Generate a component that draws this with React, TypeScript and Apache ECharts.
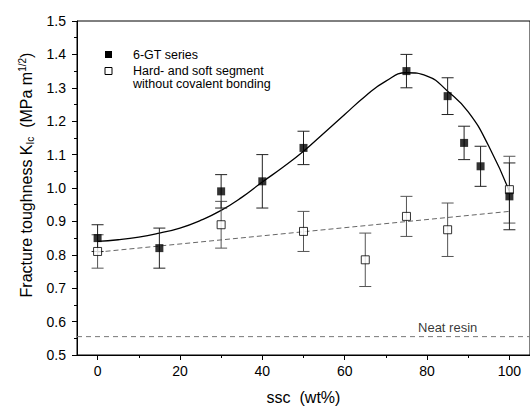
import React, { useEffect, useRef } from "react";
import * as echarts from "echarts";

const FONT = '"Liberation Sans", Arial, Helvetica, sans-serif';

// 6-GT series (filled squares)
const gtX = [0, 15, 30, 40, 50, 75, 85, 89, 93, 100];
const gtY = [0.85, 0.82, 0.99, 1.02, 1.12, 1.35, 1.275, 1.135, 1.065, 0.975];
const gtErr = [0.04, 0.06, 0.05, 0.08, 0.05, 0.05, 0.055, 0.05, 0.06, 0.1];

// Hard- and soft segment without covalent bonding (open squares)
const hsX = [0, 30, 50, 65, 75, 85, 100];
const hsY = [0.81, 0.89, 0.87, 0.785, 0.915, 0.875, 0.995];
const hsErr = [0.05, 0.07, 0.06, 0.08, 0.06, 0.08, 0.1];

// fitted curve through 6-GT series
const curveX = [0, 5, 10, 15, 20, 25, 30, 35, 40, 45, 50, 55, 60, 65, 70, 75, 80, 85, 90, 95, 100];
const curveY = [0.84, 0.845, 0.853, 0.865, 0.88, 0.903, 0.933, 0.972, 1.018, 1.062, 1.11, 1.165, 1.22, 1.275, 1.32, 1.345, 1.335, 1.29, 1.228, 1.125, 0.99];

// linear trend for open squares
const fitX = [0, 100];
const fitY = [0.808, 0.93];

// neat resin reference
const neatX = [-5, 105];
const neatY = 0.555;
const neatLabelX = 85;

const xMajor = [0, 20, 40, 60, 80, 100];
const xMinor = [10, 30, 50, 70, 90];

function errorBarSeries(xs: number[], ys: number[], es: number[], color: string, z: number) {
  return {
    type: "custom",
    z,
    silent: true,
    data: xs.map((x, i) => [x, ys[i], es[i]]),
    renderItem: (params: any, api: any) => {
      const x = api.value(0);
      const y = api.value(1);
      const e = api.value(2);
      const top = api.coord([x, y + e]);
      const bot = api.coord([x, y - e]);
      const hw = 6;
      const style = { stroke: color, lineWidth: 1 };
      return {
        type: "group",
        children: [
          { type: "line", shape: { x1: top[0], y1: top[1], x2: bot[0], y2: bot[1] }, style },
          { type: "line", shape: { x1: top[0] - hw, y1: top[1], x2: top[0] + hw, y2: top[1] }, style },
          { type: "line", shape: { x1: bot[0] - hw, y1: bot[1], x2: bot[0] + hw, y2: bot[1] }, style },
        ],
      };
    },
  };
}

export default function App() {
  const ref = useRef<HTMLDivElement>(null);
  useEffect(() => {
    if (!ref.current) return;
    const chart = echarts.init(ref.current, undefined, { renderer: "svg" });
    const axisText = { color: "#000", fontSize: 14, fontFamily: FONT };
    const option: any = {
      animation: false,
      backgroundColor: "#fff",
      grid: {
        left: 77,
        top: 21,
        right: -5,
        bottom: 49.5,
        show: true,
        borderColor: "#000",
        borderWidth: 1,
        backgroundColor: "transparent",
      },
      xAxis: [
        {
          type: "value",
          min: -5,
          max: 105,
          interval: 5,
          position: "bottom",
          axisLine: { show: true, onZero: false, lineStyle: { color: "#000", width: 1 } },
          axisTick: { show: true, customValues: xMajor, length: 5, lineStyle: { color: "#000" } },
          axisLabel: { ...axisText, customValues: xMajor, margin: 9, formatter: (v: number) => String(v) },
          splitLine: { show: false },
          name: "ssc  (wt%)",
          nameLocation: "middle",
          nameGap: 34,
          nameTextStyle: { color: "#000", fontSize: 16, fontFamily: FONT },
        },
        {
          type: "value",
          min: -5,
          max: 105,
          interval: 5,
          position: "bottom",
          axisLine: { show: false },
          axisTick: { show: true, customValues: xMinor, length: 3, lineStyle: { color: "#000" } },
          axisLabel: { show: false },
          splitLine: { show: false },
        },
      ],
      yAxis: {
        type: "value",
        min: 0.5,
        max: 1.5,
        interval: 0.1,
        axisLine: { show: true, onZero: false, lineStyle: { color: "#000", width: 1 } },
        axisTick: { show: true, length: 5, lineStyle: { color: "#000" } },
        minorTick: { show: true, splitNumber: 2, length: 3, lineStyle: { color: "#000" } },
        axisLabel: { ...axisText, margin: 11, formatter: (v: number) => v.toFixed(1) },
        splitLine: { show: false },
        minorSplitLine: { show: false },
        name: "{t|Fracture toughness K}{sub|Ic}{t|  (MPa m}{sup|1/2}{t|)}",
        nameLocation: "middle",
        nameGap: 40,
        nameTextStyle: {
          color: "#000",
          fontSize: 16,
          fontFamily: FONT,
          padding: [0, 0, 0, 26],
          rich: {
            t: { fontSize: 16, fontFamily: FONT, color: "#000" },
            sub: { fontSize: 10, fontFamily: FONT, color: "#000", verticalAlign: "bottom", padding: [6, 0, 0, 0] },
            sup: { fontSize: 10, fontFamily: FONT, color: "#000", verticalAlign: "top", padding: [0, 0, 8, 0] },
          },
        },
      },
      series: [
        {
          name: "Neat resin",
          type: "line",
          data: neatX.map((x) => [x, neatY]),
          symbol: "none",
          lineStyle: { color: "#777", width: 1, type: [5, 4] },
          z: 1,
        },
        {
          name: "Neat resin label",
          type: "scatter",
          data: [[neatLabelX, neatY]],
          symbolSize: 0,
          label: {
            show: true,
            position: "top",
            distance: 3,
            formatter: "Neat resin",
            color: "#000",
            fontSize: 13,
            fontFamily: FONT,
          },
          z: 1,
        },
        {
          name: "Trend (open)",
          type: "line",
          data: fitX.map((x, i) => [x, fitY[i]]),
          symbol: "none",
          lineStyle: { color: "#666", width: 1, type: [5, 3] },
          z: 2,
        },
        {
          name: "Fit (6-GT)",
          type: "line",
          data: curveX.map((x, i) => [x, curveY[i]]),
          symbol: "none",
          smooth: true,
          lineStyle: { color: "#000", width: 1.3 },
          z: 3,
        },
        errorBarSeries(hsX, hsY, hsErr, "#555", 4),
        errorBarSeries(gtX, gtY, gtErr, "#222", 4),
        {
          name: "Hard- and soft segment without covalent bonding",
          type: "scatter",
          data: hsX.map((x, i) => [x, hsY[i]]),
          symbol: "rect",
          symbolSize: 8,
          itemStyle: { color: "#fff", borderColor: "#000", borderWidth: 1 },
          z: 5,
        },
        {
          name: "6-GT series",
          type: "scatter",
          data: gtX.map((x, i) => [x, gtY[i]]),
          symbol: "rect",
          symbolSize: 8,
          itemStyle: { color: "#000" },
          z: 6,
        },
      ],
      graphic: [
        { type: "rect", shape: { x: 105, y: 51, width: 7, height: 7 }, style: { fill: "#000" } },
        {
          type: "text",
          x: 133,
          y: 55,
          style: { text: "6-GT series", fill: "#000", font: `12.5px ${FONT}`, textVerticalAlign: "middle" },
        },
        { type: "rect", shape: { x: 105, y: 67.5, width: 7, height: 7 }, style: { fill: "#fff", stroke: "#000", lineWidth: 1 } },
        {
          type: "text",
          x: 133,
          y: 64.5,
          style: {
            text: "Hard- and soft segment\nwithout covalent bonding",
            fill: "#000",
            font: `12.5px ${FONT}`,
            lineHeight: 13,
            textVerticalAlign: "top",
          },
        },
      ],
    };
    chart.setOption(option);
    return () => chart.dispose();
  }, []);
  return (
    <div
      ref={ref}
      style={{ position: "fixed", left: 0, top: 0, width: 530, height: 410, background: "#fff" }}
    />
  );
}
